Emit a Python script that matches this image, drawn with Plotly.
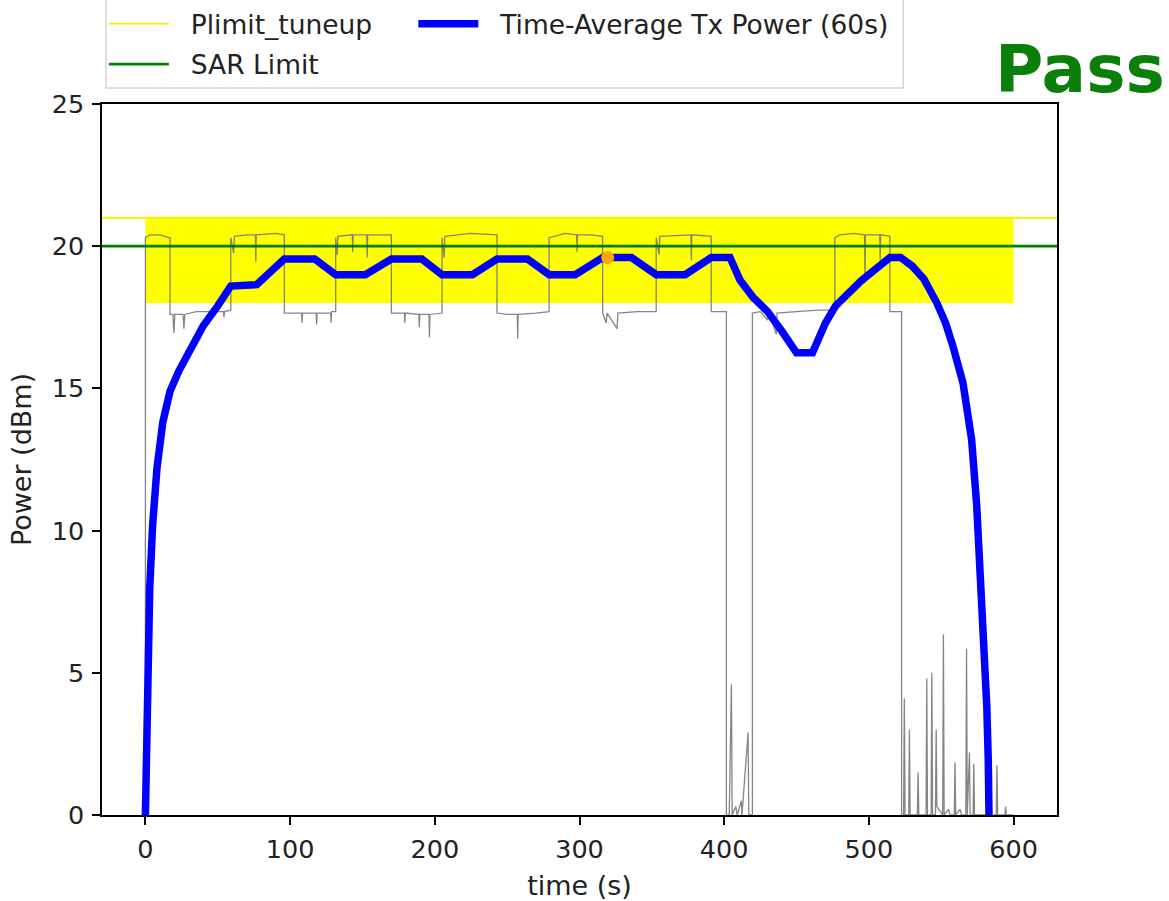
import plotly.graph_objects as go

# ---------------- data ----------------
x_range = [-30, 630]
y_range = [0, 25]
x_ticks = [0, 100, 200, 300, 400, 500, 600]
y_ticks = [0, 5, 10, 15, 20, 25]

plimit_level = 21
sar_limit = 20

band_x = [0, 600]
band_lo = [18, 18]
band_hi = [21, 21]

# instantaneous Tx power (time s, dBm)
gray_samples = [
    (0, 0), (0, 20.3), (3, 20.4), (10, 20.4), (16, 20.3), (17, 20.3), (17, 17.6),
    (19, 17.6), (19.7, 16.95), (20.3, 17.6), (26, 17.6), (26.6, 17.1), (27.2, 17.6),
    (35, 17.7), (44, 17.7), (44.3, 17.45), (44.7, 17.7), (54, 17.7), (54.3, 17.5),
    (54.7, 17.7), (59, 17.75), (59, 20.3),
    (61, 19.75), (61.5, 20.35), (70, 20.4), (76, 20.4), (76.3, 19.45), (76.6, 20.4),
    (90, 20.45), (96, 20.4), (96, 17.65),
    (108, 17.65), (108.3, 17.3), (108.6, 17.65), (118, 17.65), (118.3, 17.25),
    (118.6, 17.65), (128, 17.65), (128.3, 17.3), (128.6, 17.7), (131.5, 17.7), (131.5, 20.3),
    (132.5, 19.7), (133, 20.35), (143, 20.4), (143.3, 19.8), (143.6, 20.4), (153, 20.4),
    (153.3, 19.6), (153.6, 20.4), (170, 20.4), (170, 17.65),
    (179, 17.65), (179.3, 17.3), (179.6, 17.65), (189, 17.6), (189.3, 17.15), (189.6, 17.6),
    (196, 17.6), (196.3, 16.8), (196.6, 17.6), (205, 17.65), (205, 20.3),
    (206.5, 19.6), (207, 20.35), (225, 20.45), (243, 20.4), (243, 17.65),
    (250, 17.6), (257, 17.6), (257.3, 16.75), (257.6, 17.6), (270, 17.65), (279, 17.7), (279, 20.3),
    (290, 20.45), (298, 20.4), (298.3, 19.8), (298.6, 20.4), (308, 20.4), (316, 20.35), (316, 17.65),
    (318.5, 17.3), (319, 17.65), (326, 17.1), (326.5, 17.65), (340, 17.7), (353, 17.7), (353, 20.3),
    (355, 19.7), (355.5, 20.35), (370, 20.4), (377, 20.4), (377.3, 19.5), (377.6, 20.4),
    (391, 20.35), (391, 17.7),
    (401.5, 17.7), (401.5, 0),
    (403.5, 0), (405, 4.6), (405.5, 0), (408, 0.3), (409, 0), (411.9, 0.5), (412.3, 0),
    (416.5, 2.9), (417, 0), (419.5, 0), (419.5, 17.65),
    (425, 17.7), (430, 17.4), (431, 17.7), (436, 16.9), (436.5, 17.65), (450, 17.7),
    (465, 17.75), (476.5, 17.75), (476.5, 20.3),
    (480, 20.4), (490, 20.45), (497, 20.4), (497.3, 18.7), (497.6, 20.4), (507.5, 20.4),
    (507.8, 19.5), (508.1, 20.4), (514.5, 20.35), (514.5, 17.7),
    (522.6, 17.7), (522.6, 0),
    (524, 0), (524.5, 4.1), (525, 0), (527.5, 0), (528, 3.0), (528.5, 0), (533.5, 0),
    (534, 1.5), (534.5, 0), (539.5, 0), (540, 4.8), (540.5, 0), (543, 0), (543.5, 5.0),
    (544, 0), (546, 0), (546.5, 3.0), (547, 0.3), (551, 0), (551.5, 6.35), (552, 0),
    (555, 0.2), (556, 0), (559, 0), (559.5, 1.85), (560, 0), (563, 0.2), (564, 0),
    (567, 0), (567.5, 5.85), (568, 0), (569.5, 2.2), (570, 0), (572, 0), (572.5, 1.8),
    (573, 0), (588, 0), (588.5, 1.75), (589, 0), (594, 0), (594.5, 0.3), (595, 0), (600, 0),
]
gray_t = [s[0] for s in gray_samples]
gray_p = [s[1] for s in gray_samples]

# time-averaged Tx power (60 s window)
avg_t = [0, 1, 2, 3, 5, 8, 12, 17, 23, 30, 40, 50, 59, 77, 96, 117, 131.5, 152, 170,
         191, 205, 226, 243, 264, 279, 297, 316, 336, 353, 373, 391, 404, 411, 420,
         430, 440, 450, 461, 470, 477, 495, 514.5, 522, 530, 538, 547, 553, 558, 562,
         565, 568, 571, 574.5, 577, 579, 581.5, 582.5, 583]
avg_p = [0, 3.5, 6.5, 8.0, 10.2, 12.2, 13.8, 14.9, 15.6, 16.3, 17.2, 17.9, 18.6, 18.65,
         19.55, 19.55, 19.0, 19.0, 19.55, 19.55, 19.0, 19.0, 19.55, 19.55, 19.0, 19.0,
         19.6, 19.6, 19.0, 19.0, 19.6, 19.6, 18.8, 18.2, 17.7, 17.0, 16.25, 16.25, 17.3,
         17.9, 18.8, 19.6, 19.6, 19.3, 18.85, 18.0, 17.3, 16.5, 15.8, 15.2, 14.2, 13.2,
         10.9, 8.5, 6.2, 3.8, 1.9, 0]

max_t = [319.5]
max_p = [19.6]

FONT = "DejaVu Sans"
NB = "\u00a0\u00a0"

fig = go.Figure()

# Plimit band (18..21 dBm)
fig.add_trace(go.Scatter(x=band_x, y=band_lo, mode="lines", line=dict(width=0, color="#ffff00"),
                         showlegend=False, hoverinfo="skip"))
fig.add_trace(go.Scatter(x=band_x, y=band_hi, mode="lines", line=dict(width=0, color="#ffff00"),
                         fill="tonexty", fillcolor="#ffff00", showlegend=False, hoverinfo="skip"))
# Plimit_tuneup line
fig.add_trace(go.Scatter(x=x_range, y=[plimit_level, plimit_level], mode="lines",
                         line=dict(color="#f2f200", width=1.8), name=NB + "Plimit_tuneup",
                         legend="legend", legendgroup="g1"))
# instantaneous power
fig.add_trace(go.Scatter(x=gray_t, y=gray_p, mode="lines",
                         line=dict(color="rgba(120,120,120,0.9)", width=1.3),
                         showlegend=False))
# SAR limit
fig.add_trace(go.Scatter(x=x_range, y=[sar_limit, sar_limit], mode="lines",
                         line=dict(color="#008000", width=2.8), name=NB + "SAR Limit",
                         legend="legend", legendgroup="g2"))
# time average
fig.add_trace(go.Scatter(x=avg_t, y=avg_p, mode="lines",
                         line=dict(color="#0000ff", width=7.5),
                         name=NB + "Time-Average Tx Power (60s)", legend="legend2"))
# max point
fig.add_trace(go.Scatter(x=max_t, y=max_p, mode="markers",
                         marker=dict(color="#ffa500", size=13), showlegend=False))

axis_common = dict(showline=True, linecolor="black", linewidth=1.5, mirror=True,
                   ticks="outside", ticklen=8, tickwidth=1.5, tickcolor="black",
                   showgrid=False, zeroline=False, ticklabelstandoff=3,
                   tickfont=dict(family=FONT, size=25.5, color="#222"))

fig.update_xaxes(range=x_range, tickvals=x_ticks,
                 title=dict(text="time (s)", font=dict(family=FONT, size=27, color="#222"),
                            standoff=14),
                 **axis_common)
fig.update_yaxes(range=y_range, tickvals=y_ticks,
                 title=dict(text="Power (dBm)", font=dict(family=FONT, size=27, color="#222"),
                            standoff=12),
                 **axis_common)

legend_common = dict(font=dict(family=FONT, size=26.5, color="#222"), bgcolor="rgba(0,0,0,0)",
                     borderwidth=0, orientation="v", yanchor="top", xanchor="left",
                     itemwidth=60, tracegroupgap=3, traceorder="grouped")

fig.update_layout(
    width=1169, height=901,
    margin=dict(l=102, r=112, t=104, b=86, autoexpand=False),
    paper_bgcolor="white", plot_bgcolor="white",
    font=dict(family=FONT, size=25, color="#222"),
    legend=dict(x=0.002, y=1.1463, **legend_common),
    legend2=dict(x=0.326, y=1.1463, **legend_common),
    shapes=[dict(type="rect", xref="paper", yref="paper", x0=0.0042, x1=0.839,
                 y0=1.0225, y1=1.16, line=dict(color="#d5d5d5", width=1.5),
                 fillcolor="white", layer="below")],
    annotations=[dict(text="<b>Pass</b>", xref="paper", yref="paper", x=1.0245, y=1.048,
                      xanchor="center", yanchor="middle", showarrow=False,
                      font=dict(family=FONT, size=66, color="#0a800a"))],
)

fig.write_html("out.html", config={"displayModeBar": False},
               post_script="document.body.style.margin='0';")
